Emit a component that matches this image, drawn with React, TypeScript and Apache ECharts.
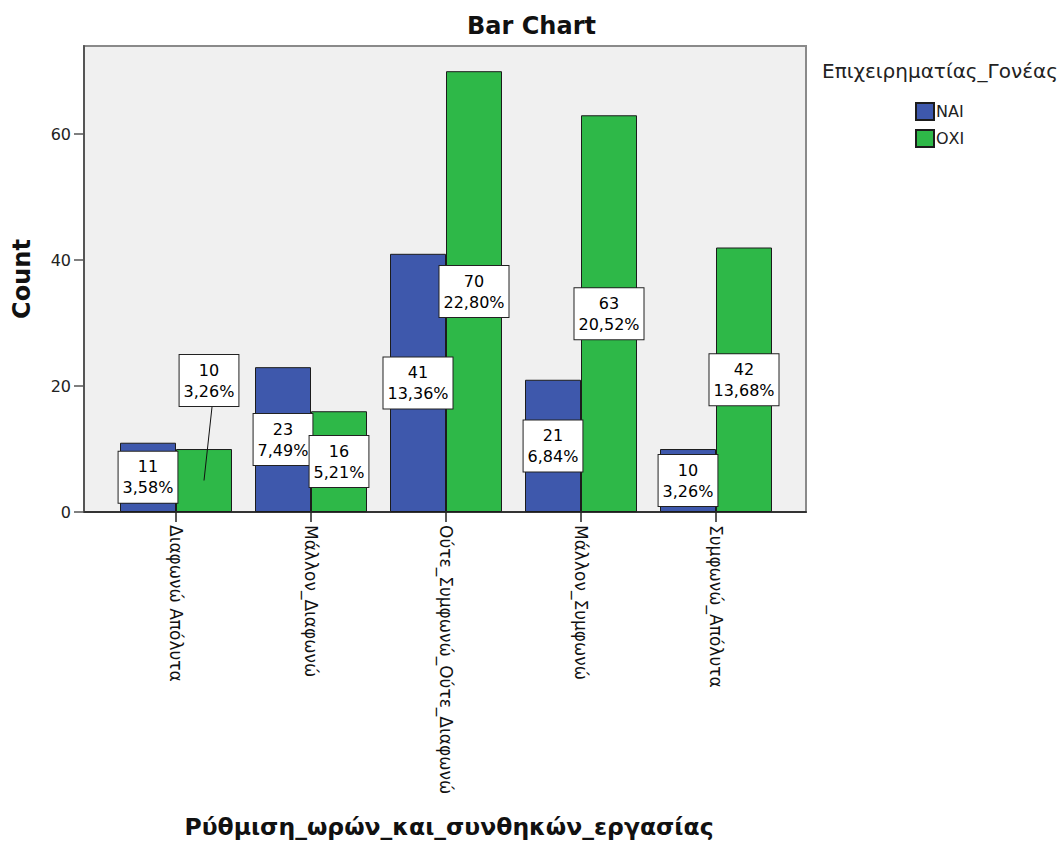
import React, { useEffect, useRef } from "react";
import * as echarts from "echarts";

const categories = [
  "Διαφωνώ Απόλυτα",
  "Μάλλον_Διαφωνώ",
  "Ούτε_Συμφωνώ_Ούτε_Διαφωνώ",
  "Μάλλον_Συμφωνώ",
  "Συμφωνώ_Απόλυτα",
];
const seriesNames = ["ΝΑΙ", "ΟΧΙ"];
const naiValues = [11, 23, 41, 21, 10];
const oxiValues = [10, 16, 70, 63, 42];
const yTicks = [0, 20, 40, 60];
const yMax = 74;

const chartTitle = "Bar Chart";
const xTitle = "Ρύθμιση_ωρών_και_συνθηκών_εργασίας";
const yTitle = "Count";
const legendTitle = "Επιχειρηματίας_Γονέας";

const FONT = "DejaVu Sans";
const BLUE = "#3E58AC";
const GREEN = "#2EB848";

const total = [...naiValues, ...oxiValues].reduce((a, b) => a + b, 0);
const pctText = (v: number) => ((v / total) * 100).toFixed(2).replace(".", ",") + "%";

const labelStyle = {
  show: true,
  position: "inside",
  formatter: (p: any) => `${p.value}\n${pctText(p.value)}`,
  color: "#000",
  fontFamily: FONT,
  fontSize: 16,
  lineHeight: 21,
  backgroundColor: "#ffffff",
  borderColor: "#222",
  borderWidth: 1,
  padding: [5, 4, 4, 4],
  align: "center",
};

const MOVED_DX = 5;
const MOVED_DY = -100;

export default function App() {
  const ref = useRef<HTMLDivElement>(null);
  useEffect(() => {
    if (!ref.current) return;
    const chart = echarts.init(ref.current, null, { renderer: "svg" });
    const gridTop = 46;
    const gridBottom = 333;
    let leader: any = null;

    const baseGraphic: any[] = [
      {
        id: "legendTitle",
        type: "text",
        left: 822,
        top: 61,
        style: { text: legendTitle, fontFamily: FONT, fontSize: 20, fill: "#222" },
      },
      {
        id: "xTitle",
        type: "text",
        x: 449,
        y: 827,
        style: {
          text: xTitle,
          fontFamily: FONT,
          fontSize: 23.5,
          fontWeight: "bold",
          fill: "#111",
          align: "center",
          verticalAlign: "middle",
        },
      },
    ];

    const option: any = {
      animation: false,
      backgroundColor: "#ffffff",
      title: {
        text: chartTitle,
        left: "center",
        top: 9,
        textStyle: { fontFamily: FONT, fontSize: 24, fontWeight: "bold", color: "#111" },
      },
      legend: {
        data: seriesNames,
        orient: "vertical",
        left: 910,
        top: 97,
        itemWidth: 18,
        itemHeight: 17,
        itemGap: 8,
        icon: "rect",
        textStyle: { fontFamily: FONT, fontSize: 16, color: "#222", padding: [0, 0, 0, -3] },
      },
      graphic: baseGraphic,
      grid: [
        {
          left: 84,
          right: 1063 - 806,
          top: gridTop,
          bottom: gridBottom,
          show: true,
          backgroundColor: "#f0f0f0",
          borderColor: "#8a8a8a",
          borderWidth: 2,
        },
        {
          left: 108.5,
          right: 1063 - 783.5,
          top: gridTop,
          bottom: gridBottom,
        },
      ],
      xAxis: [
        {
          gridIndex: 0,
          type: "value",
          min: 0,
          max: 1,
          axisLine: { show: true, onZero: false, lineStyle: { color: "#333", width: 2 } },
          axisTick: { show: false },
          axisLabel: { show: false },
          splitLine: { show: false },
        },
        {
          gridIndex: 1,
          type: "category",
          data: categories,
          axisLine: { show: false },
          axisTick: { show: true, alignWithLabel: true, length: 10, lineStyle: { color: "#222", width: 1.5 } },
          axisLabel: {
            rotate: -90,
            margin: 13,
            interval: 0,
            fontFamily: FONT,
            fontSize: 17,
            color: "#111",
          },
          splitLine: { show: false },
        },
      ],
      yAxis: [
        {
          gridIndex: 0,
          type: "value",
          min: 0,
          max: yMax,
          name: yTitle,
          nameLocation: "middle",
          nameGap: 50,
          nameTextStyle: { fontFamily: FONT, fontSize: 24, fontWeight: "bold", color: "#111" },
          axisLine: { show: true, lineStyle: { color: "#555", width: 2 } },
          axisTick: { show: true, length: 10, customValues: yTicks, lineStyle: { color: "#555", width: 1.5 } },
          axisLabel: {
            customValues: yTicks,
            margin: 13,
            fontFamily: FONT,
            fontSize: 16,
            color: "#222",
          },
          splitLine: { show: false },
        },
        {
          gridIndex: 1,
          type: "value",
          min: 0,
          max: yMax,
          show: false,
          splitLine: { show: false },
        },
      ],
      series: [
        {
          name: seriesNames[0],
          type: "bar",
          xAxisIndex: 1,
          yAxisIndex: 1,
          data: naiValues,
          barWidth: 56,
          barGap: "0%",
          itemStyle: { color: BLUE, borderColor: "#1c1c1c", borderWidth: 1 },
          label: labelStyle,
          emphasis: { disabled: true },
        },
        {
          name: seriesNames[1],
          type: "bar",
          xAxisIndex: 1,
          yAxisIndex: 1,
          data: oxiValues,
          barWidth: 56,
          barGap: "0%",
          itemStyle: { color: GREEN, borderColor: "#1c1c1c", borderWidth: 1 },
          label: labelStyle,
          labelLayout: (p: any) => {
            if (p.dataIndex !== 0) return {};
            const r = p.rect;
            const lr = p.labelRect;
            leader = {
              x1: lr.x + lr.width / 2 + MOVED_DX + 3,
              y1: lr.y + lr.height + MOVED_DY,
              x2: r.x + r.width / 2,
              y2: r.y + r.height / 2,
            };
            return { dx: MOVED_DX, dy: MOVED_DY };
          },
          emphasis: { disabled: true },
        },
      ],
    };
    chart.setOption(option);
    if (leader) {
      chart.setOption({
        graphic: [
          ...baseGraphic,
          {
            id: "leader",
            type: "line",
            z: 100,
            shape: leader,
            style: { stroke: "#111", lineWidth: 1 },
          },
        ],
      });
    }
    return () => chart.dispose();
  }, []);
  return (
    <div
      ref={ref}
      style={{ position: "absolute", left: 0, top: 0, width: 1063, height: 845 }}
    />
  );
}
